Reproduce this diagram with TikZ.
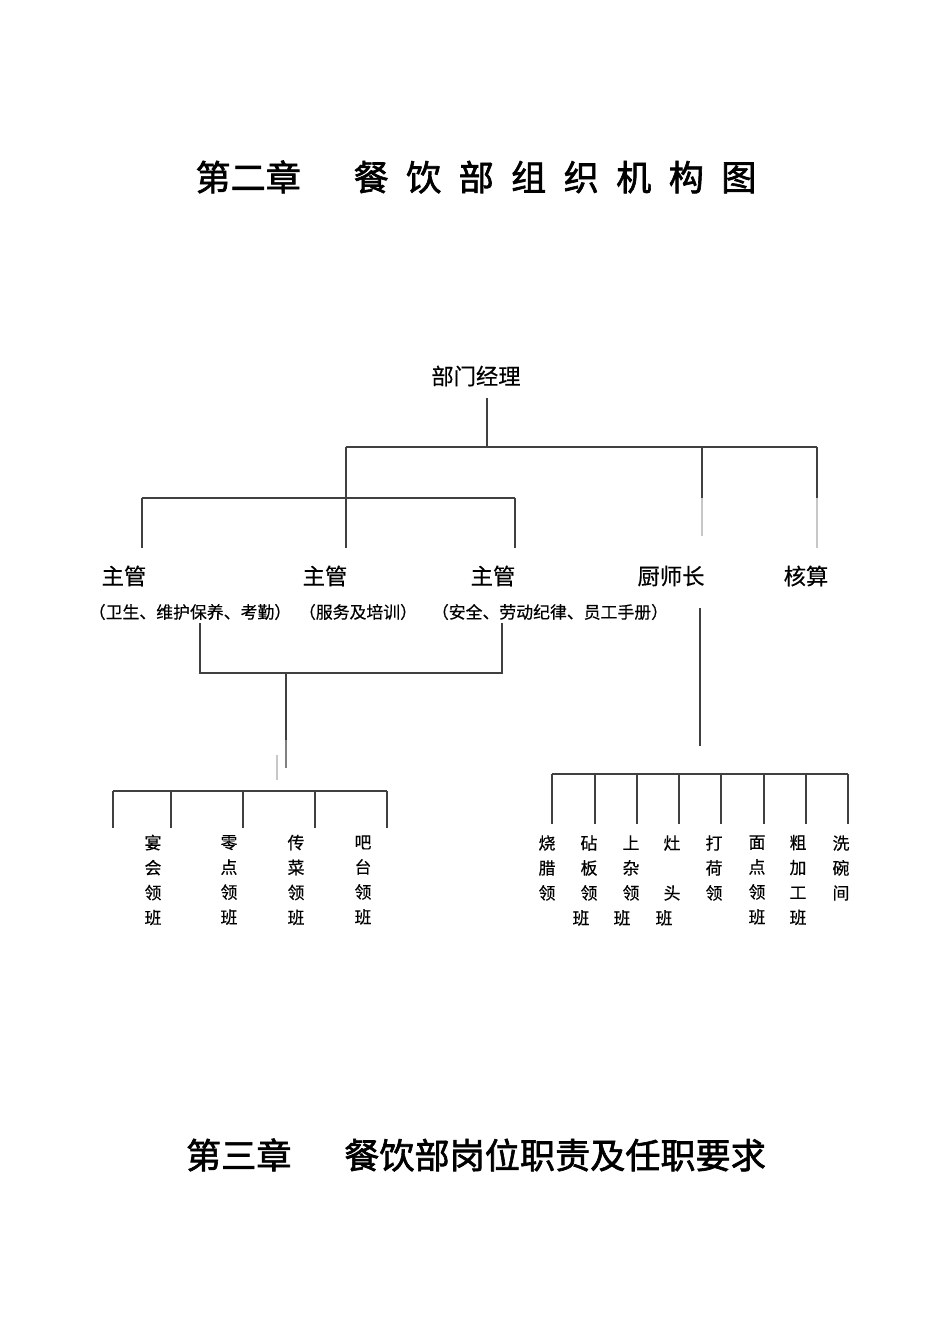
\documentclass[tikz,border=0pt]{standalone}
\usepackage{fontspec}
\newfontfamily\cjk[FakeBold=0.4]{Noto Sans CJK SC}
\newfontfamily\cjkt[FakeBold=1.8]{Noto Sans CJK SC}
\newcommand{\tsp}{\hspace{9.9pt}}

\begin{document}
\begin{tikzpicture}[x=0.02cm,y=-0.02cm,
    ln/.style={line width=0.6pt,black!75},
    md/.style={line width=0.6pt,black!50},
    fa/.style={line width=0.6pt,black!22},
    lbl/.style={inner sep=0pt,font=\cjk\fontsize{12.7}{15}\selectfont},
    sml/.style={inner sep=0pt,align=center,font=\cjk\fontsize{9.6}{14.2}\selectfont},
    ttl/.style={inner sep=0pt,font=\cjkt\fontsize{20}{24}\selectfont}]
  \useasboundingbox (0,0) rectangle (950,1344);
  % titles
  \node[ttl] (ta) at (476,177) {第二章\hspace{30pt}餐\tsp 饮\tsp 部\tsp 组\tsp 织\tsp 机\tsp 构\tsp 图};
  \node[ttl] (tb) at (476,1155) {第三章\hspace{30pt}餐饮部岗位职责及任职要求};
  % posts
  \node[lbl] (mgr) at (476,376) {部门经理};
  \node[lbl] (sa) at (124,576) {主管};
  \node[lbl] (sb) at (325,576) {主管};
  \node[lbl] (sc) at (493,576) {主管};
  \node[lbl] (chef) at (671,576) {厨师长};
  \node[lbl] (acct) at (806,576) {核算};
  \node[sml] (da) at (190,612) {（卫生、维护保养、考勤）};
  \node[sml] (db) at (358,612) {（服务及培训）};
  \node[sml] (dc) at (550,612) {（安全、劳动纪律、员工手册）};
  % line ends
  \coordinate (m0) at (487,398);
  \coordinate (m1) at (487,447);
  \coordinate (hl) at (346,447);
  \coordinate (hr) at (817,447);
  \coordinate (k0) at (702,447);
  \coordinate (k1) at (702,498);
  \coordinate (k2) at (702,536);
  \coordinate (c1) at (817,498);
  \coordinate (c2) at (817,548);
  \coordinate (s0) at (346,498);
  \coordinate (s1) at (346,548);
  \coordinate (sl0) at (142,498);
  \coordinate (sl1) at (142,548);
  \coordinate (sr0) at (515,498);
  \coordinate (sr1) at (515,548);
  \draw[ln] (m0)--(m1);
  \draw[ln] (hl)--(hr);
  \draw[ln] (hl)--(s1);
  \draw[ln] (k0)--(k1);
  \draw[fa] (k1)--(k2);
  \draw[ln] (hr)--(c1);
  \draw[fa] (c1)--(c2);
  \draw[ln] (sl0)--(sr0);
  \draw[ln] (sl0)--(sl1);
  \draw[ln] (sr0)--(sr1);
  % service side
  \coordinate (fa0) at (200,623);
  \coordinate (fa1) at (200,673);
  \coordinate (fb0) at (502,623);
  \coordinate (fb1) at (502,673);
  \coordinate (g0) at (286,673);
  \coordinate (g1) at (286,740);
  \coordinate (g2) at (286,768);
  \coordinate (g3) at (277,755);
  \coordinate (g4) at (277,780);
  \draw[ln] (fa0)--(fa1)--(fb1)--(fb0);
  \draw[ln] (g0)--(g1);
  \draw[md] (g1)--(g2);
  \draw[fa] (g3)--(g4);
  \coordinate (ba) at (113,791);
  \coordinate (bb) at (171,791);
  \coordinate (bc) at (243,791);
  \coordinate (bd) at (315,791);
  \coordinate (be) at (387,791);
  \draw[ln] (ba)--(be);
  \draw[ln] (ba)--++(0,37);
  \draw[ln] (bb)--++(0,37);
  \draw[ln] (bc)--++(0,37);
  \draw[ln] (bd)--++(0,37);
  \draw[ln] (be)--++(0,37);
  \node[sml] (ea) at (153,880) {宴\\会\\领\\班};
  \node[sml] (eb) at (229,880) {零\\点\\领\\班};
  \node[sml] (ec) at (296,880) {传\\菜\\领\\班};
  \node[sml] (ed) at (363,880) {吧\\台\\领\\班};
  % kitchen side
  \coordinate (p0) at (700,608);
  \coordinate (p1) at (700,746);
  \draw[ln] (p0)--(p1);
  \coordinate (qa) at (552,774);
  \coordinate (qb) at (595,774);
  \coordinate (qc) at (637,774);
  \coordinate (qd) at (679,774);
  \coordinate (qe) at (721,774);
  \coordinate (qf) at (764,774);
  \coordinate (qg) at (806,774);
  \coordinate (qh) at (848,774);
  \draw[ln] (qa)--(qh);
  \draw[ln] (qa)--++(0,50);
  \draw[ln] (qb)--++(0,50);
  \draw[ln] (qc)--++(0,50);
  \draw[ln] (qd)--++(0,50);
  \draw[ln] (qe)--++(0,50);
  \draw[ln] (qf)--++(0,50);
  \draw[ln] (qg)--++(0,50);
  \draw[ln] (qh)--++(0,50);
  \node[sml] (ra) at (547,868) {烧\\腊\\领};
  \node[sml] (rb) at (589,868) {砧\\板\\领};
  \node[sml] (rc) at (631,868) {上\\杂\\领};
  \node[sml] (rd) at (672,868) {灶\\~\\头};
  \node[sml] (re) at (714,868) {打\\荷\\领};
  \node[sml] (rf) at (757,880) {面\\点\\领\\班};
  \node[sml] (rg) at (798,880) {粗\\加\\工\\班};
  \node[sml] (rh) at (841,868) {洗\\碗\\间};
  \node[sml] (wb) at (581,918) {班};
  \node[sml] (wc) at (622,918) {班};
  \node[sml] (wd) at (664,918) {班};
\end{tikzpicture}
\end{document}
